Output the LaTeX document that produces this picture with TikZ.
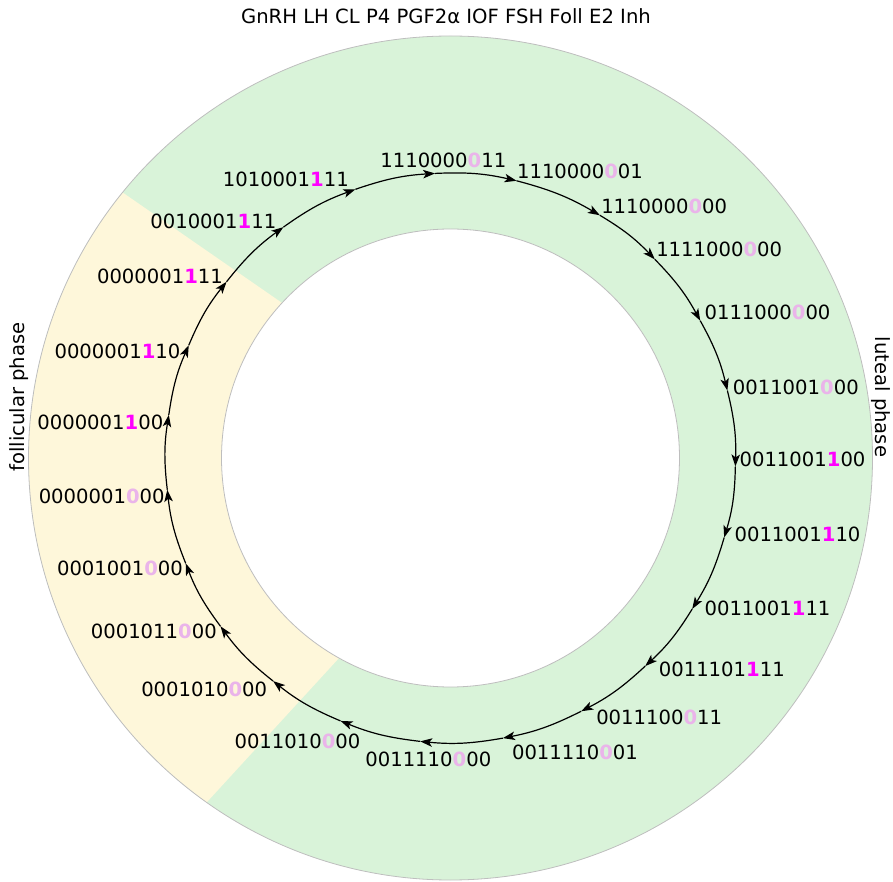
\documentclass[tikz,border=0pt]{standalone}
\usepackage{fontspec}
\setmainfont{DejaVu Sans}
\usetikzlibrary{arrows.meta}

\definecolor{ringgreen}{RGB}{217,243,217}
\definecolor{ringyellow}{RGB}{254,247,218}
\definecolor{edgegrey}{RGB}{190,190,190}
\definecolor{hlon}{RGB}{255,0,255}
\definecolor{hloff}{RGB}{234,180,234}

\newcommand{\labelfont}{\fontsize{19.6}{23.5}\selectfont}
\newcommand{\fon}{\textcolor{hlon}{\textbf{1}}}
\newcommand{\foff}{\textcolor{hloff}{\textbf{0}}}

\tikzset{
	state/.style={font=\labelfont, inner sep=0pt, text depth=0pt},
	phase/.style={font=\labelfont, inner sep=0pt},
	flow/.style={-{Stealth[length=12pt,width=8.5pt,inset=3pt]}, line width=1.2pt},
	ring/.style={draw=edgegrey, line width=0.8pt}
}

\begin{document}
\begin{tikzpicture}[x=1pt,y=1pt]
	
	\useasboundingbox (-450.5,-424) rectangle (442.5,458);
	
	% ring with the two phases
	\fill[ringgreen] (0,0) circle (422pt);
	\fill[ringyellow] (141:422pt) arc[start angle=141, end angle=234.7, radius=422pt] -- (65.5,-7) -- cycle;
	\draw[ring] (0,0) circle (422pt);
	\filldraw[ring, fill=white] (0,0) circle (229pt);
	
	% variables
	\node[phase, anchor=base] (title) at (-4.5,434) {GnRH LH CL P4 PGF2α IOF FSH Foll E2 Inh};
	
	% phase labels
	\node[phase, anchor=base, rotate=90] (foll) at (-425.5,61) {follicular phase};
	\node[phase, anchor=base, rotate=-90] (lut) at (424.5,61) {luteal phase};
	
	% states of the cycle
	\foreach \ang/\lx/\ly/\txt [count=\i from 0] in {
		93.1/-7.2/297.7/{1110000\foff11},
		76.6/129.5/286.3/{1110000\foff01},
		58.4/213.7/251.3/{1110000\foff00},
		44.2/268.7/208.3/{1111000\foff00},
		28.8/317/145.3/{0111000\foff00},
		13.7/345.3/71/{0011001\foff00},
		-1.7/352/-1.7/{0011001\fon00},
		-16.2/347/-76.2/{0011001\fon10},
		-32.0/317/-150.3/{0011001\fon11},
		-46.9/271.3/-211.2/{0011101\fon11},
		-62.7/208.7/-259/{0011100\foff11},
		-79.4/124.5/-294.5/{0011110\foff01},
		-96.1/-22.2/-300.8/{0011110\foff00},
		-112.7/-153/-282.8/{0011010\foff00},
		-128.5/-246.3/-231.2/{0001010\foff00},
		-143.8/-296.7/-173.2/{0001011\foff00},
		-158.3/-330.5/-109.8/{0001001\foff00},
		-173.6/-348.8/-38.7/{0000001\foff00},
		171.3/-350.2/35.8/{0000001\fon00},
		156.7/-333/106.3/{0000001\fon10},
		141.8/-290.5/182.2/{0000001\fon11},
		125.9/-237.2/237.2/{0010001\fon11},
		109.5/-164.7/278.8/{1010001\fon11}}
	{
		\coordinate (s\i) at (\ang:285pt);
		\node[state] (l\i) at (\lx,\ly) {\txt};
	}
	
	% transitions
	\foreach \i [evaluate=\i as \j using {int(mod(\i+1,23))}] in {0,...,22}
		\draw[flow] (s\i) to[bend left=7.8] (s\j);
	
\end{tikzpicture}
\end{document}
